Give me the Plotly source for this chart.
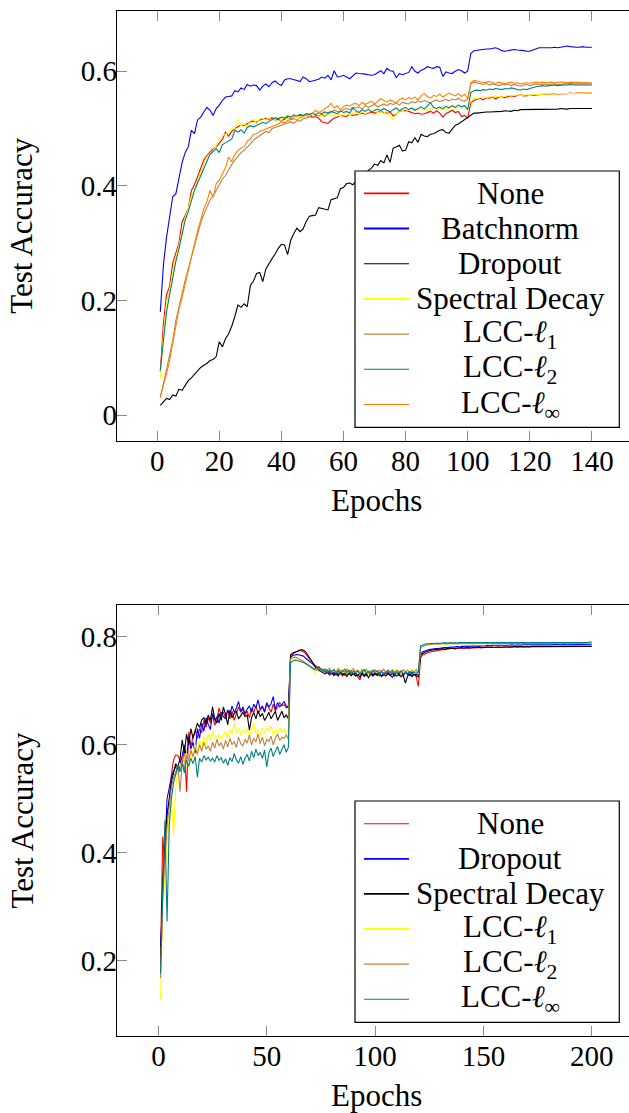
import plotly.graph_objects as go

# ---------------- data: top panel (140 epochs) ----------------
epochs_top = list(range(1, 141))

top_none = [
0.075,0.160,0.210,0.225,0.265,0.285,0.300,0.337,0.348,0.360,
0.392,0.402,0.416,0.430,0.445,0.453,0.459,0.465,0.468,0.474,
0.481,0.494,0.487,0.495,0.500,0.503,0.506,0.505,0.509,0.512,
0.513,0.511,0.515,0.516,0.518,0.516,0.519,0.515,0.516,0.514,
0.517,0.519,0.516,0.520,0.521,0.523,0.522,0.525,0.524,0.520,
0.521,0.518,0.512,0.510,0.509,0.514,0.518,0.520,0.523,0.522,
0.521,0.525,0.523,0.524,0.526,0.527,0.525,0.527,0.529,0.527,
0.529,0.530,0.528,0.527,0.529,0.522,0.525,0.530,0.531,0.532,
0.530,0.528,0.526,0.527,0.525,0.526,0.528,0.530,0.527,0.531,
0.527,0.520,0.526,0.529,0.532,0.528,0.530,0.521,0.523,0.518,
0.545,0.549,0.551,0.553,0.550,0.554,0.553,0.555,0.552,0.555,
0.556,0.554,0.556,0.557,0.556,0.558,0.559,0.557,0.558,0.558,
0.558,0.559,0.559,0.560,0.560,0.560,0.561,0.560,0.561,0.561,
0.561,0.561,0.562,0.561,0.562,0.562,0.562,0.562,0.563,0.562]

top_batchnorm = [
0.180,0.262,0.310,0.348,0.381,0.386,0.412,0.440,0.458,0.468,
0.497,0.491,0.515,0.520,0.529,0.537,0.532,0.523,0.535,0.541,
0.549,0.555,0.556,0.557,0.566,0.564,0.571,0.568,0.577,0.574,
0.576,0.575,0.567,0.574,0.578,0.573,0.580,0.583,0.578,0.575,
0.585,0.587,0.587,0.586,0.584,0.582,0.590,0.587,0.582,0.583,
0.585,0.586,0.590,0.588,0.593,0.585,0.601,0.590,0.591,0.593,
0.590,0.587,0.592,0.597,0.596,0.596,0.595,0.594,0.593,0.594,
0.597,0.601,0.596,0.605,0.601,0.600,0.589,0.596,0.594,0.596,
0.598,0.608,0.600,0.597,0.602,0.604,0.608,0.606,0.605,0.608,
0.607,0.591,0.599,0.597,0.596,0.600,0.603,0.601,0.597,0.600,
0.631,0.636,0.637,0.638,0.638,0.639,0.639,0.640,0.641,0.639,
0.636,0.635,0.636,0.637,0.638,0.637,0.637,0.636,0.635,0.635,
0.637,0.639,0.641,0.641,0.641,0.640,0.641,0.642,0.641,0.642,
0.643,0.644,0.643,0.642,0.642,0.642,0.643,0.642,0.642,0.642]

top_dropout = [
0.017,0.023,0.029,0.027,0.035,0.033,0.045,0.043,0.052,0.060,
0.065,0.071,0.077,0.083,0.087,0.090,0.095,0.097,0.102,0.128,
0.119,0.133,0.142,0.155,0.172,0.192,0.188,0.194,0.189,0.226,
0.234,0.247,0.249,0.233,0.255,0.265,0.273,0.281,0.291,0.298,
0.297,0.280,0.305,0.317,0.326,0.320,0.325,0.338,0.347,0.348,
0.349,0.362,0.361,0.359,0.358,0.376,0.378,0.379,0.395,0.397,
0.404,0.405,0.402,0.408,0.413,0.410,0.418,0.427,0.431,0.438,
0.436,0.444,0.440,0.454,0.441,0.466,0.468,0.471,0.461,0.462,
0.477,0.475,0.484,0.476,0.490,0.487,0.486,0.490,0.491,0.494,
0.497,0.498,0.493,0.492,0.500,0.506,0.508,0.512,0.516,0.519,
0.524,0.527,0.527,0.528,0.528,0.529,0.529,0.529,0.530,0.529,
0.530,0.531,0.531,0.530,0.532,0.531,0.533,0.533,0.534,0.533,
0.534,0.533,0.533,0.534,0.534,0.533,0.534,0.534,0.534,0.535,
0.534,0.534,0.535,0.535,0.534,0.535,0.535,0.535,0.535,0.535]

top_spectral = [
0.064,0.140,0.195,0.218,0.248,0.275,0.295,0.322,0.345,0.360,
0.382,0.395,0.410,0.425,0.437,0.450,0.455,0.462,0.470,0.482,
0.488,0.490,0.495,0.499,0.500,0.516,0.505,0.508,0.502,0.514,
0.516,0.508,0.517,0.518,0.515,0.519,0.512,0.516,0.520,0.514,
0.521,0.516,0.523,0.518,0.522,0.520,0.523,0.525,0.521,0.526,
0.524,0.527,0.520,0.524,0.526,0.522,0.524,0.527,0.522,0.526,
0.528,0.524,0.527,0.529,0.525,0.530,0.526,0.529,0.531,0.533,
0.527,0.530,0.526,0.531,0.522,0.516,0.525,0.530,0.532,0.529,
0.533,0.535,0.530,0.534,0.532,0.536,0.531,0.535,0.537,0.533,
0.535,0.538,0.532,0.536,0.539,0.534,0.538,0.536,0.540,0.535,
0.549,0.553,0.552,0.554,0.555,0.554,0.556,0.555,0.557,0.556,
0.557,0.556,0.558,0.557,0.558,0.559,0.558,0.559,0.559,0.558,
0.559,0.560,0.559,0.560,0.560,0.561,0.560,0.561,0.561,0.561,
0.561,0.561,0.562,0.561,0.562,0.561,0.562,0.562,0.561,0.562]

top_lcc1 = [
0.030,0.055,0.075,0.100,0.130,0.165,0.190,0.215,0.235,0.255,
0.275,0.295,0.318,0.335,0.350,0.362,0.375,0.382,0.392,0.401,
0.412,0.418,0.428,0.437,0.445,0.452,0.458,0.462,0.468,0.473,
0.479,0.484,0.488,0.491,0.495,0.493,0.500,0.502,0.504,0.505,
0.508,0.510,0.512,0.509,0.514,0.513,0.517,0.518,0.521,0.519,
0.523,0.522,0.525,0.521,0.526,0.528,0.532,0.530,0.529,0.533,
0.535,0.533,0.537,0.536,0.538,0.534,0.540,0.537,0.539,0.542,
0.538,0.541,0.543,0.540,0.544,0.542,0.545,0.541,0.546,0.544,
0.543,0.547,0.545,0.548,0.546,0.549,0.547,0.545,0.548,0.550,
0.547,0.549,0.551,0.548,0.552,0.550,0.553,0.549,0.548,0.551,
0.578,0.581,0.580,0.579,0.577,0.579,0.576,0.578,0.577,0.575,
0.577,0.576,0.578,0.575,0.577,0.576,0.574,0.576,0.577,0.575,
0.577,0.578,0.577,0.578,0.578,0.577,0.578,0.578,0.577,0.578,
0.578,0.578,0.579,0.578,0.578,0.578,0.579,0.578,0.578,0.578]

top_lcc2 = [
0.078,0.130,0.180,0.210,0.241,0.268,0.290,0.318,0.340,0.355,
0.375,0.392,0.405,0.418,0.430,0.445,0.455,0.460,0.465,0.458,
0.472,0.475,0.478,0.482,0.497,0.494,0.498,0.492,0.502,0.505,
0.503,0.506,0.508,0.511,0.509,0.513,0.516,0.519,0.517,0.520,
0.518,0.522,0.520,0.524,0.522,0.525,0.523,0.526,0.525,0.527,
0.524,0.528,0.526,0.529,0.527,0.530,0.528,0.526,0.531,0.528,
0.530,0.527,0.536,0.531,0.528,0.533,0.530,0.534,0.529,0.532,
0.534,0.531,0.535,0.532,0.529,0.533,0.536,0.531,0.534,0.537,
0.533,0.536,0.532,0.535,0.538,0.534,0.540,0.545,0.537,0.535,
0.538,0.534,0.539,0.536,0.540,0.537,0.541,0.538,0.540,0.533,
0.563,0.566,0.567,0.566,0.568,0.567,0.569,0.568,0.570,0.569,
0.568,0.570,0.569,0.571,0.570,0.568,0.567,0.569,0.568,0.570,
0.572,0.573,0.574,0.575,0.574,0.575,0.575,0.576,0.575,0.576,
0.576,0.576,0.577,0.576,0.576,0.577,0.576,0.576,0.576,0.576]

top_lccinf = [
0.032,0.050,0.072,0.095,0.125,0.150,0.185,0.205,0.228,0.250,
0.275,0.300,0.322,0.340,0.360,0.372,0.392,0.380,0.404,0.410,
0.420,0.432,0.450,0.442,0.455,0.462,0.466,0.468,0.478,0.482,
0.490,0.491,0.495,0.497,0.499,0.502,0.503,0.505,0.508,0.512,
0.510,0.514,0.516,0.517,0.515,0.519,0.521,0.523,0.520,0.526,
0.532,0.528,0.530,0.535,0.538,0.544,0.536,0.540,0.532,0.538,
0.541,0.539,0.543,0.544,0.540,0.546,0.542,0.545,0.548,0.543,
0.547,0.552,0.549,0.546,0.550,0.548,0.545,0.551,0.553,0.550,
0.554,0.552,0.555,0.550,0.557,0.561,0.556,0.553,0.558,0.556,
0.560,0.555,0.558,0.562,0.559,0.557,0.561,0.556,0.560,0.552,
0.580,0.584,0.583,0.582,0.580,0.581,0.582,0.580,0.579,0.581,
0.580,0.578,0.580,0.581,0.579,0.580,0.578,0.579,0.580,0.579,
0.580,0.581,0.580,0.581,0.580,0.581,0.581,0.580,0.581,0.581,
0.581,0.580,0.581,0.581,0.580,0.581,0.581,0.580,0.580,0.580]

top_names = ["None", "Batchnorm", "Dropout", "Spectral Decay",
             "LCC-<i>ℓ</i><sub>1</sub>", "LCC-<i>ℓ</i><sub>2</sub>", "LCC-<i>ℓ</i><sub>∞</sub>"]
top_colors = ["#ff0000", "#0000ff", "#000000", "#ffff00", "#bf8040", "#008080", "#ff8000"]
top_series = [top_none, top_batchnorm, top_dropout, top_spectral, top_lcc1, top_lcc2, top_lccinf]
top_xticks = [0, 20, 40, 60, 80, 100, 120, 140]
top_yticks = [0, 0.2, 0.4, 0.6]
top_yticktext = ["0", "0.2", "0.4", "0.6"]

# ---------------- data: bottom panel (200 epochs) ----------------
epochs_bot = list(range(1, 201))

bot_none = [
0.208,0.430,0.380,0.470,0.492,0.545,0.572,0.581,0.580,0.572,
0.560,0.600,0.513,0.624,0.598,0.615,0.628,0.612,0.630,0.622,
0.645,0.632,0.650,0.640,0.655,0.636,0.648,0.668,0.655,0.660,
0.650,0.665,0.648,0.662,0.645,0.658,0.670,0.660,0.666,0.655,
0.662,0.650,0.668,0.660,0.672,0.658,0.665,0.670,0.662,0.676,
0.668,0.660,0.675,0.663,0.670,0.678,0.672,0.674,0.668,0.672,
0.765,0.768,0.770,0.773,0.775,0.774,0.772,0.768,0.763,0.757,
0.752,0.748,0.745,0.742,0.740,0.738,0.735,0.733,0.736,0.731,
0.734,0.729,0.737,0.731,0.727,0.735,0.730,0.733,0.728,0.736,
0.731,0.726,0.720,0.732,0.734,0.728,0.733,0.729,0.735,0.730,
0.732,0.727,0.734,0.729,0.736,0.731,0.728,0.733,0.730,0.735,
0.729,0.732,0.727,0.734,0.730,0.733,0.728,0.731,0.726,0.708,
0.760,0.766,0.768,0.770,0.771,0.772,0.773,0.774,0.774,0.775,
0.776,0.776,0.777,0.777,0.778,0.778,0.777,0.778,0.779,0.778,
0.779,0.779,0.778,0.779,0.780,0.779,0.780,0.780,0.779,0.780,
0.780,0.781,0.780,0.781,0.780,0.781,0.781,0.780,0.781,0.781,
0.781,0.780,0.781,0.781,0.782,0.781,0.781,0.782,0.781,0.781,
0.782,0.781,0.782,0.781,0.782,0.782,0.781,0.782,0.782,0.781,
0.782,0.782,0.781,0.782,0.782,0.782,0.781,0.782,0.782,0.782,
0.782,0.781,0.782,0.782,0.782,0.782,0.782,0.781,0.782,0.782]

bot_dropout = [
0.226,0.330,0.410,0.500,0.520,0.540,0.552,0.560,0.545,0.565,
0.580,0.598,0.575,0.615,0.592,0.605,0.585,0.630,0.612,0.640,
0.625,0.650,0.638,0.628,0.658,0.645,0.652,0.640,0.660,0.652,
0.648,0.664,0.655,0.672,0.660,0.668,0.680,0.662,0.670,0.658,
0.666,0.672,0.660,0.675,0.668,0.683,0.665,0.672,0.660,0.678,
0.670,0.676,0.689,0.665,0.678,0.670,0.674,0.680,0.672,0.668,
0.762,0.765,0.766,0.767,0.766,0.765,0.764,0.760,0.757,0.753,
0.750,0.746,0.742,0.744,0.740,0.737,0.735,0.738,0.733,0.736,
0.731,0.735,0.730,0.736,0.732,0.729,0.734,0.731,0.737,0.730,
0.733,0.728,0.735,0.731,0.726,0.734,0.730,0.736,0.729,0.733,
0.730,0.735,0.728,0.733,0.731,0.736,0.729,0.732,0.727,0.734,
0.731,0.735,0.729,0.733,0.730,0.728,0.734,0.731,0.729,0.732,
0.768,0.772,0.774,0.775,0.776,0.777,0.777,0.778,0.778,0.779,
0.779,0.780,0.780,0.780,0.781,0.781,0.781,0.782,0.781,0.782,
0.782,0.782,0.782,0.783,0.782,0.783,0.783,0.783,0.783,0.783,
0.783,0.784,0.783,0.784,0.784,0.783,0.784,0.784,0.784,0.784,
0.784,0.784,0.785,0.784,0.784,0.785,0.784,0.785,0.785,0.784,
0.785,0.785,0.785,0.784,0.785,0.785,0.785,0.785,0.785,0.785,
0.785,0.785,0.786,0.785,0.785,0.785,0.786,0.785,0.785,0.786,
0.785,0.786,0.785,0.786,0.786,0.785,0.786,0.786,0.786,0.786]

bot_spectral = [
0.190,0.350,0.420,0.470,0.500,0.530,0.548,0.565,0.558,0.575,
0.609,0.585,0.620,0.600,0.630,0.612,0.625,0.640,0.632,0.646,
0.650,0.638,0.655,0.645,0.670,0.648,0.640,0.658,0.645,0.670,
0.656,0.637,0.664,0.650,0.658,0.662,0.648,0.655,0.660,0.652,
0.655,0.627,0.650,0.660,0.648,0.663,0.652,0.658,0.645,0.652,
0.660,0.648,0.656,0.662,0.645,0.655,0.662,0.650,0.655,0.648,
0.766,0.770,0.771,0.773,0.774,0.776,0.775,0.772,0.766,0.759,
0.752,0.746,0.741,0.738,0.736,0.733,0.731,0.734,0.729,0.733,
0.728,0.732,0.727,0.734,0.729,0.731,0.726,0.733,0.728,0.732,
0.727,0.731,0.725,0.733,0.728,0.730,0.724,0.732,0.727,0.731,
0.728,0.733,0.726,0.730,0.727,0.732,0.728,0.725,0.731,0.727,
0.730,0.726,0.729,0.714,0.727,0.731,0.726,0.730,0.728,0.725,
0.765,0.769,0.771,0.773,0.774,0.775,0.776,0.776,0.777,0.777,
0.778,0.777,0.778,0.778,0.779,0.778,0.779,0.779,0.779,0.780,
0.779,0.780,0.780,0.779,0.780,0.780,0.780,0.781,0.780,0.780,
0.781,0.780,0.781,0.781,0.780,0.781,0.781,0.781,0.780,0.781,
0.781,0.781,0.781,0.782,0.781,0.781,0.782,0.781,0.781,0.782,
0.781,0.782,0.782,0.781,0.782,0.782,0.781,0.782,0.782,0.782,
0.782,0.781,0.782,0.782,0.782,0.782,0.782,0.781,0.782,0.782,
0.782,0.782,0.782,0.782,0.781,0.782,0.782,0.782,0.782,0.782]

bot_lcc1 = [
0.129,0.300,0.360,0.420,0.470,0.500,0.433,0.520,0.555,0.565,
0.560,0.575,0.585,0.555,0.590,0.575,0.600,0.585,0.608,0.595,
0.615,0.600,0.620,0.608,0.625,0.612,0.605,0.620,0.610,0.618,
0.625,0.612,0.628,0.620,0.640,0.622,0.632,0.618,0.628,0.622,
0.630,0.616,0.627,0.640,0.620,0.628,0.615,0.632,0.622,0.630,
0.625,0.635,0.618,0.628,0.622,0.632,0.624,0.630,0.620,0.628,
0.758,0.761,0.762,0.760,0.759,0.757,0.755,0.752,0.749,0.745,
0.744,0.732,0.742,0.739,0.741,0.736,0.740,0.735,0.739,0.734,
0.738,0.733,0.737,0.740,0.734,0.738,0.732,0.736,0.739,0.733,
0.737,0.731,0.735,0.739,0.733,0.736,0.730,0.738,0.734,0.737,
0.733,0.736,0.731,0.738,0.734,0.737,0.732,0.735,0.739,0.733,
0.736,0.731,0.738,0.733,0.737,0.734,0.740,0.732,0.736,0.731,
0.780,0.783,0.784,0.785,0.786,0.786,0.787,0.787,0.786,0.787,
0.787,0.788,0.787,0.787,0.788,0.787,0.788,0.788,0.787,0.788,
0.788,0.787,0.788,0.788,0.787,0.788,0.788,0.788,0.787,0.788,
0.788,0.788,0.787,0.788,0.788,0.788,0.787,0.788,0.788,0.787,
0.788,0.788,0.788,0.787,0.788,0.788,0.788,0.787,0.788,0.788,
0.788,0.787,0.788,0.788,0.788,0.788,0.787,0.788,0.788,0.788,
0.787,0.788,0.788,0.788,0.788,0.787,0.788,0.788,0.788,0.788,
0.788,0.787,0.788,0.788,0.788,0.788,0.788,0.787,0.788,0.788]

bot_lcc2 = [
0.168,0.320,0.390,0.450,0.485,0.520,0.540,0.550,0.560,0.513,
0.568,0.555,0.580,0.570,0.590,0.578,0.595,0.582,0.600,0.588,
0.605,0.592,0.598,0.588,0.605,0.594,0.610,0.598,0.604,0.592,
0.608,0.596,0.612,0.600,0.606,0.595,0.614,0.602,0.598,0.610,
0.603,0.618,0.600,0.612,0.605,0.620,0.602,0.614,0.598,0.610,
0.606,0.616,0.600,0.612,0.620,0.608,0.614,0.612,0.618,0.610,
0.758,0.761,0.762,0.761,0.759,0.757,0.754,0.751,0.748,0.746,
0.743,0.741,0.738,0.742,0.737,0.740,0.736,0.739,0.741,0.735,
0.739,0.734,0.741,0.736,0.738,0.733,0.740,0.735,0.737,0.741,
0.734,0.738,0.732,0.739,0.736,0.740,0.733,0.737,0.735,0.739,
0.734,0.738,0.736,0.740,0.733,0.737,0.735,0.739,0.734,0.738,
0.736,0.732,0.739,0.735,0.738,0.733,0.737,0.735,0.739,0.733,
0.779,0.782,0.784,0.785,0.785,0.786,0.786,0.787,0.786,0.787,
0.787,0.787,0.786,0.787,0.787,0.787,0.788,0.787,0.787,0.788,
0.787,0.787,0.788,0.787,0.787,0.788,0.787,0.787,0.788,0.787,
0.787,0.788,0.787,0.787,0.788,0.787,0.788,0.787,0.787,0.788,
0.787,0.788,0.787,0.788,0.787,0.787,0.788,0.787,0.788,0.787,
0.787,0.788,0.787,0.787,0.788,0.787,0.788,0.787,0.787,0.788,
0.787,0.788,0.787,0.787,0.788,0.787,0.787,0.788,0.787,0.788,
0.787,0.787,0.788,0.787,0.788,0.787,0.787,0.788,0.787,0.788]

bot_lccinf = [
0.177,0.340,0.460,0.273,0.450,0.500,0.530,0.545,0.560,0.550,
0.565,0.548,0.572,0.560,0.575,0.565,0.578,0.540,0.575,0.568,
0.580,0.572,0.577,0.570,0.575,0.568,0.580,0.571,0.576,0.566,
0.574,0.562,0.576,0.569,0.584,0.572,0.566,0.578,0.564,0.575,
0.582,0.570,0.588,0.576,0.592,0.580,0.586,0.575,0.590,0.559,
0.585,0.594,0.578,0.588,0.597,0.582,0.592,0.600,0.586,0.595,
0.752,0.755,0.757,0.756,0.755,0.754,0.752,0.750,0.747,0.745,
0.742,0.739,0.743,0.738,0.741,0.736,0.740,0.734,0.738,0.735,
0.739,0.733,0.737,0.731,0.736,0.740,0.734,0.738,0.732,0.736,
0.733,0.737,0.730,0.735,0.739,0.733,0.736,0.731,0.738,0.734,
0.737,0.732,0.736,0.730,0.735,0.738,0.733,0.736,0.731,0.735,
0.733,0.737,0.731,0.735,0.732,0.736,0.730,0.734,0.732,0.735,
0.783,0.785,0.786,0.787,0.787,0.788,0.788,0.788,0.787,0.788,
0.788,0.789,0.788,0.788,0.789,0.788,0.789,0.788,0.789,0.789,
0.788,0.789,0.789,0.788,0.789,0.789,0.788,0.789,0.789,0.789,
0.788,0.789,0.789,0.789,0.788,0.789,0.789,0.789,0.788,0.789,
0.789,0.789,0.788,0.789,0.789,0.789,0.789,0.788,0.789,0.789,
0.789,0.788,0.789,0.789,0.789,0.789,0.788,0.789,0.789,0.789,
0.789,0.789,0.788,0.789,0.789,0.789,0.789,0.789,0.788,0.789,
0.789,0.789,0.789,0.789,0.789,0.788,0.789,0.789,0.790,0.790]

bot_names = ["None", "Dropout", "Spectral Decay",
             "LCC-<i>ℓ</i><sub>1</sub>", "LCC-<i>ℓ</i><sub>2</sub>", "LCC-<i>ℓ</i><sub>∞</sub>"]
bot_colors = ["#ff0000", "#0000ff", "#000000", "#ffff00", "#bf8040", "#008080"]
bot_series = [bot_none, bot_dropout, bot_spectral, bot_lcc1, bot_lcc2, bot_lccinf]
bot_xticks = [0, 50, 100, 150, 200]
bot_yticks = [0.2, 0.4, 0.6, 0.8]
bot_yticktext = ["0.2", "0.4", "0.6", "0.8"]

x_title = "Epochs"
y_title = "Test Accuracy"

# ---------------- layout geometry (pixels) ----------------
W, H = 629, 1113
ML, MR, MT, MB = 117, 0, 11, 77
PW = W - ML - MR
PH = H - MT - MB

def fx(px):
    return (px - ML) / PW

def fy(py):
    return 1 - (py - MT) / PH

def clamp(v):
    return max(0.0, min(1.0, v))

FONT = "Liberation Serif"
TICKC = "#8a8a8a"

fig = go.Figure()
for vals, name, col in zip(top_series, top_names, top_colors):
    fig.add_trace(go.Scatter(x=epochs_top, y=vals, mode="lines", name=name,
                             line=dict(color=col, width=1.1), showlegend=False,
                             xaxis="x", yaxis="y"))
for vals, name, col in zip(bot_series, bot_names, bot_colors):
    fig.add_trace(go.Scatter(x=epochs_bot, y=vals, mode="lines", name=name,
                             line=dict(color=col, width=1.1), showlegend=False,
                             xaxis="x2", yaxis="y2"))

tickfont = dict(family=FONT, size=29, color="black")
labelfont = dict(family=FONT, size=31, color="black")

common_x = dict(ticks="inside", ticklen=10, tickwidth=1.2, tickcolor=TICKC,
                showline=True, linecolor="black", linewidth=1.2, mirror="ticks",
                showgrid=False, zeroline=False, tickfont=tickfont, domain=[0, 1],
                automargin=False, ticklabelstandoff=-6)
common_y = dict(ticks="inside", ticklen=10, tickwidth=1.2, tickcolor=TICKC,
                showline=True, linecolor="black", linewidth=1.2, mirror=False,
                showgrid=False, zeroline=False, tickfont=tickfont, automargin=False,
                ticklabelstandoff=-7)
right_y = dict(ticks="inside", ticklen=4, tickwidth=1.2, tickcolor=TICKC,
               showline=False, showgrid=False, zeroline=False, showticklabels=False,
               side="right", automargin=False)

top_box = (440.7, 11.0)     # bottom, top pixel rows of upper panel
bot_box = (1035.7, 605.3)   # bottom, top pixel rows of lower panel
top_dom = [clamp(fy(top_box[0])), clamp(fy(top_box[1]))]
bot_dom = [clamp(fy(bot_box[0])), clamp(fy(bot_box[1]))]
top_xr = [-12.95, -12.95 + PW / 3.1048]
bot_xr = [-19.1, -19.1 + PW / 2.1667]
top_yr = [-0.0448, 0.7052]
bot_yr = [0.0618, 0.858]

fig.update_layout(
    width=W, height=H, margin=dict(l=ML, r=MR, t=MT, b=MB, autoexpand=False),
    paper_bgcolor="white", plot_bgcolor="white", showlegend=False,
    font=dict(family=FONT, color="black"),
    xaxis=dict(common_x, anchor="y", range=top_xr, tickvals=top_xticks),
    yaxis=dict(common_y, anchor="x", domain=top_dom, range=top_yr,
               tickvals=top_yticks, ticktext=top_yticktext),
    yaxis3=dict(right_y, overlaying="y", anchor="x", range=top_yr, tickvals=top_yticks),
    xaxis2=dict(common_x, anchor="y2", range=bot_xr, tickvals=bot_xticks),
    yaxis2=dict(common_y, anchor="x2", domain=bot_dom, range=bot_yr,
                tickvals=bot_yticks, ticktext=bot_yticktext),
    yaxis4=dict(right_y, overlaying="y2", anchor="x2", range=bot_yr, tickvals=bot_yticks),
)

# axis titles placed at the reference's pixel positions
for (ybot, ytop) in (top_box, bot_box):
    fig.add_annotation(text=x_title, xref="paper", yref="paper",
                       x=fx(376.5), y=fy(ybot + 60), xanchor="center", yanchor="middle",
                       showarrow=False, font=labelfont)
    fig.add_annotation(text=y_title, xref="paper", yref="paper", textangle=-90,
                       x=fx(22), y=fy((ybot + ytop) / 2), xanchor="center", yanchor="middle",
                       showarrow=False, font=labelfont)

# ---------------- legends (centred text like pgfplots) ----------------
def add_legend(names, colors, box, first_row, row_step, widths):
    x0, y0, x1, y1 = box
    fig.add_shape(type="rect", xref="paper", yref="paper",
                  x0=fx(x0), x1=fx(x1), y0=fy(y1), y1=fy(y0),
                  line=dict(color="black", width=1.2), fillcolor="white", layer="above")
    for i, (nm, col) in enumerate(zip(names, colors)):
        yy = first_row + i * row_step
        fig.add_shape(type="line", xref="paper", yref="paper",
                      x0=fx(364), x1=fx(409), y0=fy(yy), y1=fy(yy),
                      line=dict(color=col, width=widths[i]), layer="above")
        fig.add_annotation(text=nm, xref="paper", yref="paper", x=fx(510), y=fy(yy),
                           xanchor="center", yanchor="middle", showarrow=False,
                           font=labelfont)

add_legend(top_names, top_colors, (355, 171, 619.3, 427.3), 193.3, 35.2,
           [1.8, 1.8, 1.1, 1.8, 1.1, 1.1, 1.1])
add_legend(bot_names, bot_colors, (355, 801, 619.3, 1022.3), 823.7, 35.1,
           [1.1, 1.8, 1.8, 1.8, 1.1, 1.1])

fig.write_html("out.html", config={"displayModeBar": False},
               post_script="document.body.style.margin='0';document.body.style.overflow='hidden';")
